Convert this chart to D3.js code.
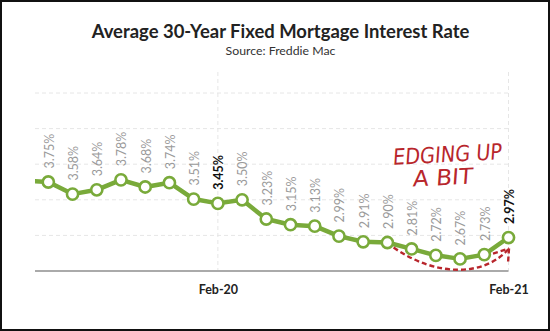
<!DOCTYPE html>
<html><head><meta charset="utf-8">
<script src="https://cdn.jsdelivr.net/npm/d3@7"></script>
<style>body{margin:0;background:#fff}svg{display:block}</style>
</head><body>
<svg id="chart" width="550" height="331"></svg>
<script>
// ---- data ----
const months = ["Jun-19","Jul-19","Aug-19","Sep-19","Oct-19","Nov-19","Dec-19","Jan-20","Feb-20",
  "Mar-20","Apr-20","May-20","Jun-20","Jul-20","Aug-20","Sep-20","Oct-20","Nov-20","Dec-20","Jan-21","Feb-21"];
const rates = [3.77,3.75,3.58,3.64,3.78,3.68,3.74,3.51,3.45,3.50,3.23,3.15,3.13,2.99,2.91,2.90,2.81,2.72,2.67,2.73,2.97];
const highlightMonths = ["Feb-20","Feb-21"];
const xTickLabels = ["Feb-20","Feb-21"];
const yGridValues = [3.0,3.5,4.0,4.5,5.0];
const titleText = "Average 30-Year Fixed Mortgage Interest Rate";
const subtitleText = "Source: Freddie Mac";
const annotationLines = ["EDGING UP","A BIT"];

const W = 550, H = 331;
const svg = d3.select("#chart");
const plot = {left:35, right:508.5, top:72, bottom:271};

const x = d3.scalePoint().domain(months).range([24.1, 508.5]);
const y = d3.scaleLinear().domain([2.5, 5.0]).range([271, 93]);

const green = "#79aa3a", red = "#b8262c";

// border
svg.append("rect").attr("x",1).attr("y",1).attr("width",W-2).attr("height",H-2)
  .attr("fill","#fff").attr("stroke","#111").attr("stroke-width",2);

// title
function fitText(sel, target){
  const len = sel.node().getComputedTextLength();
  const fs = parseFloat(sel.attr("font-size"));
  sel.attr("font-size", fs*target/len);
}
const t = svg.append("text").attr("x",280.5).attr("y",38.3).attr("text-anchor","middle")
  .attr("font-family","Lato, 'Open Sans', sans-serif").attr("font-weight","bold")
  .attr("font-size",18).attr("fill","#222").text(titleText);
fitText(t, 378);
const st = svg.append("text").attr("x",280.5).attr("y",55).attr("text-anchor","middle")
  .attr("font-family","Lato, 'Open Sans', sans-serif")
  .attr("font-size",12).attr("fill","#333").text(subtitleText);
fitText(st, 110);

// gridlines
svg.append("g").selectAll("line").data(yGridValues).join("line")
  .attr("x1",plot.left).attr("x2",plot.right)
  .attr("y1",d=>y(d)).attr("y2",d=>y(d))
  .attr("stroke","#e6e6e6").attr("stroke-width",1).attr("stroke-dasharray","4,3");
svg.append("g").selectAll("line").data(xTickLabels).join("line")
  .attr("x1",d=>x(d)).attr("x2",d=>x(d))
  .attr("y1",plot.top).attr("y2",plot.bottom)
  .attr("stroke","#e6e6e6").attr("stroke-width",1).attr("stroke-dasharray","4,3");

// x axis
const xAxis = d3.axisBottom(x).tickValues(xTickLabels).tickSize(0).tickPadding(14);
const ga = svg.append("g").attr("transform",`translate(0,${plot.bottom})`).call(xAxis);
ga.select(".domain").remove();
ga.selectAll("text").attr("font-family","Lato, 'Open Sans', sans-serif")
  .attr("font-weight","bold").attr("font-size",12.5).attr("fill","#222");
svg.append("line").attr("x1",plot.left).attr("x2",plot.right)
  .attr("y1",plot.bottom).attr("y2",plot.bottom)
  .attr("stroke","#aaa").attr("stroke-width",2);

// clip
svg.append("clipPath").attr("id","clip").append("rect")
  .attr("x",plot.left).attr("y",0).attr("width",W-plot.left).attr("height",H);

const data = months.map((m,i)=>({m, v:rates[i]}));
const g = svg.append("g").attr("clip-path","url(#clip)");
g.append("path").datum(data)
  .attr("d", d3.line().x(d=>x(d.m)).y(d=>y(d.v)))
  .attr("fill","none").attr("stroke",green).attr("stroke-width",4.5).attr("stroke-linejoin","round");

const visible = data.filter(d=>x(d.m) >= plot.left);
svg.append("g").selectAll("circle").data(visible).join("circle")
  .attr("cx",d=>x(d.m)).attr("cy",d=>y(d.v)).attr("r",5.6)
  .attr("fill","#fff").attr("stroke",green).attr("stroke-width",2.6);

// value labels
svg.append("g").selectAll("text").data(visible).join("text")
  .attr("transform",d=>`translate(${x(d.m)+1},${y(d.v)-13.5}) rotate(-90)`)
  .attr("dy","0.35em")
  .attr("text-anchor","start")
  .attr("font-family","Lato, 'Open Sans', sans-serif")
  .attr("font-size",12.5)
  .attr("font-weight",d=>highlightMonths.includes(d.m)?"bold":"normal")
  .attr("fill",d=>highlightMonths.includes(d.m)?"#111":"#9a9a9a")
  .text(d=>d.v.toFixed(2)+"%");

// annotation
const ann = svg.append("g").attr("fill",red)
  .attr("font-family","'DejaVu Sans Condensed','DejaVu Sans',sans-serif")
  .attr("font-size",22);
ann.append("g").attr("transform","rotate(-3,447,155) translate(447,155) skewX(-7) translate(-447,-155)")
  .append("text").attr("x",393).attr("y",162).attr("textLength",109)
  .attr("lengthAdjust","spacingAndGlyphs").text(annotationLines[0]);
ann.append("g").attr("transform","rotate(-3,443,178) translate(443,178) skewX(-7) translate(-443,-178)")
  .append("text").attr("x",413).attr("y",185).attr("textLength",60)
  .attr("lengthAdjust","spacingAndGlyphs").text(annotationLines[1]);

const tip = [x("Feb-21")+0.5, y(2.97)+11];
const arrow = svg.append("g").attr("fill","none").attr("stroke",red)
  .attr("stroke-width",2.4).attr("stroke-dasharray","5,3").attr("stroke-linecap","butt");
arrow.append("path").attr("d",
  `M${x("Oct-20")-18},${y(2.90)+5} C${x("Nov-20")},${plot.bottom+6} ${x("Jan-21")},${plot.bottom+6} ${tip[0]},${tip[1]}`);
arrow.append("path").attr("d",`M${tip[0]-16},${tip[1]+5} L${tip[0]},${tip[1]}`);
arrow.append("path").attr("d",`M${tip[0]},${tip[1]} L${tip[0]-1},${tip[1]+15}`);
</script>
</body></html>
